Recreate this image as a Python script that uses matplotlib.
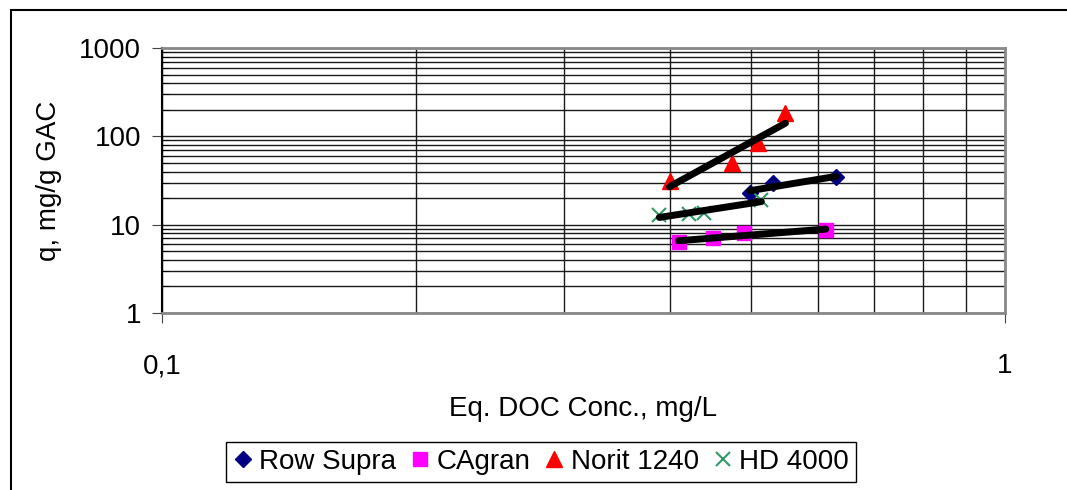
import numpy as np
import matplotlib.pyplot as plt
from matplotlib.ticker import FixedLocator, FixedFormatter, LogLocator, NullFormatter
from matplotlib.patches import Rectangle

plt.rcParams['font.family'] = ['Liberation Sans', 'DejaVu Sans']

# data (x: mg/L, y: mg/g)
row_x = [0.498, 0.530, 0.631]
row_y = [22.6, 29.4, 34.4]
cag_x = [0.410, 0.450, 0.490, 0.613]
cag_y = [6.4, 7.0, 8.0, 8.7]
nor_x = [0.400, 0.475, 0.510, 0.549]
nor_y = [31.5, 50.3, 83.4, 182.0]
hd_x = [0.389, 0.422, 0.439, 0.514]
hd_y = [12.9, 13.1, 13.5, 19.0]

series = [
    ('Row Supra', row_x, row_y, 'D', '#000080', 8),
    ('CAgran', cag_x, cag_y, 's', '#FF00FF', 10),
    ('Norit 1240', nor_x, nor_y, '^', '#FF0000', 11),
    ('HD 4000', hd_x, hd_y, 'x', '#339966', 10),
]

fig = plt.figure(figsize=(10.67, 4.90), dpi=100)
ax = fig.add_axes([0.1518, 0.3612, 0.9419 - 0.1518, 0.902 - 0.3612])

# outer chart border
fig.patches.append(Rectangle((11 / 1067, -0.05), 1.1, 1 - 10 / 490 + 0.05,
                             transform=fig.transFigure, fill=False,
                             edgecolor='black', linewidth=1.5, zorder=0))

for name, x, y, m, c, ms in series:
    if m == 'x':
        ax.plot(x, y, linestyle='none', marker=m, color=c, markersize=ms,
                markeredgewidth=1.5, label=name, zorder=3)
    else:
        ax.plot(x, y, linestyle='none', marker=m, color=c, markersize=ms,
                markeredgecolor=c, label=name, zorder=3)

# power trend lines
for name, x, y, m, c, ms in series:
    lx, ly = np.log10(x), np.log10(y)
    k, b = np.polyfit(lx, ly, 1)
    xs = np.array([min(x), max(x)])
    ax.plot(xs, 10 ** (b + k * np.log10(xs)), color='black', linewidth=5,
            solid_capstyle='round', zorder=4)

ax.set_xscale('log')
ax.set_yscale('log')
ax.set_xlim(0.1, 1)
ax.set_ylim(1, 1000)

ax.xaxis.set_major_locator(FixedLocator([0.1, 1]))
ax.xaxis.set_major_formatter(FixedFormatter(['0,1', '1']))
ax.xaxis.set_minor_locator(LogLocator(subs=np.arange(2, 10)))
ax.xaxis.set_minor_formatter(NullFormatter())
ax.yaxis.set_major_locator(FixedLocator([1, 10, 100, 1000]))
ax.yaxis.set_major_formatter(FixedFormatter(['1', '10', '100', '1000']))
ax.yaxis.set_minor_locator(LogLocator(subs=np.arange(2, 10)))
ax.yaxis.set_minor_formatter(NullFormatter())

ax.grid(True, which='both', color='#1a1a1a', linewidth=1.0)
ax.set_axisbelow(True)

ax.tick_params(axis='both', which='major', labelsize=20, length=7,
               direction='out', color='#444444')
ax.tick_params(axis='y', which='minor', length=5, direction='in')
ax.tick_params(axis='x', which='minor', length=0)
ax.tick_params(axis='x', which='major', pad=22)
ax.tick_params(axis='y', which='major', pad=8)

for side in ['top', 'right', 'bottom']:
    ax.spines[side].set_color('#888888')
    ax.spines[side].set_linewidth(2)
ax.spines['left'].set_color('black')
ax.spines['left'].set_linewidth(1.5)

ax.set_xlabel('Eq. DOC Conc., mg/L', fontsize=20, labelpad=12)
ax.set_ylabel('q, mg/g GAC', fontsize=20, labelpad=12)

fig.legend(loc='center', bbox_to_anchor=(541 / 1067, 1 - 462 / 490), ncol=4,
           fontsize=20, frameon=True, fancybox=False, edgecolor='black',
           framealpha=1, handlelength=0.7, handletextpad=0.25,
           columnspacing=0.5, borderpad=0.25, borderaxespad=0)

fig.savefig('out.png', dpi=100)
